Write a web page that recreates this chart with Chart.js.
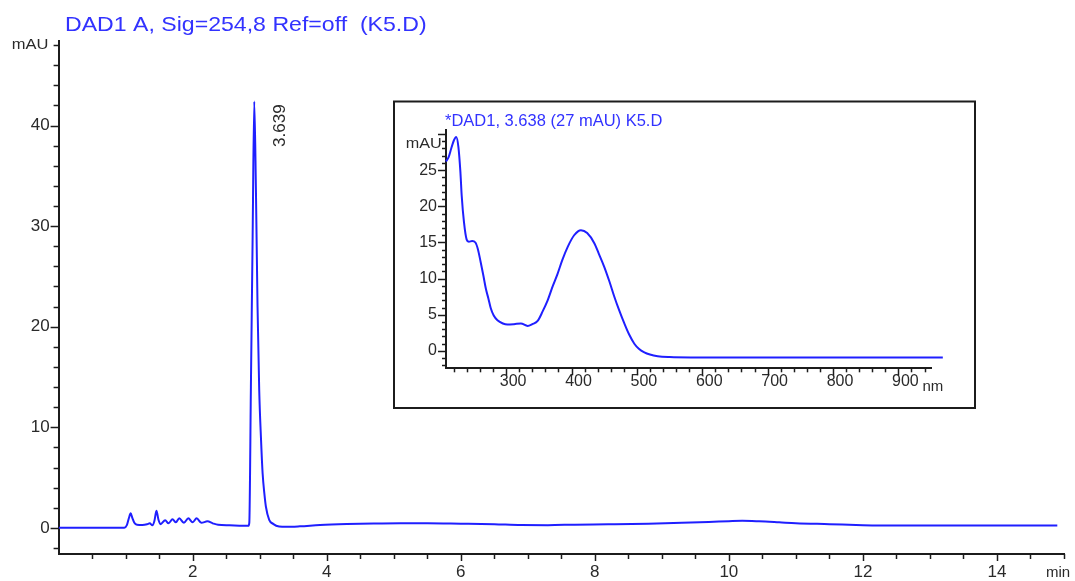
<!DOCTYPE html>
<html>
<head>
<meta charset="utf-8">
<script src="https://cdn.jsdelivr.net/npm/chart.js@4.4.1/dist/chart.umd.min.js"></script>
<style>
  html, body { margin: 0; padding: 0; background: #fff; }
  #wrap { position: relative; width: 1075px; height: 581px; overflow: hidden; }
  #main { position: absolute; left: 0; top: 0; }
  #inset { position: absolute; left: 393px; top: 100px; }
</style>
</head>
<body>
<div id="wrap">
  <canvas id="main" width="1075" height="581"></canvas>
  <canvas id="inset" width="583" height="309"></canvas>
</div>
<script>
// Chromatogram, DAD1 A (Sig=254,8): retention time in min, absorbance in mAU
const timeMin = [
  0, 0.5, 0.98, 1.02, 1.05, 1.075, 1.10, 1.13, 1.17, 1.25,
  1.32, 1.36, 1.40, 1.43, 1.46, 1.49, 1.52, 1.59, 1.64, 1.70,
  1.75, 1.80, 1.87, 1.935, 2.00, 2.06, 2.13, 2.22, 2.30, 2.38,
  2.55, 2.75, 2.83, 2.845, 2.869, 2.895, 2.919, 2.944, 2.968, 2.993,
  3.02, 3.044, 3.07, 3.093, 3.142, 3.20, 3.29, 3.40, 3.6, 3.9,
  4.3, 4.7, 5.1, 5.5, 6.0, 6.5, 6.9, 7.3, 7.7, 8.2,
  8.8, 9.3, 9.7, 10.0, 10.2, 10.45, 10.75, 11.0, 11.5, 12.0,
  12.5, 13.0, 13.5, 14.0, 14.5, 14.9
];
const signalMAU = [
  0, 0, 0.02, 0.3, 1.0, 1.45, 1.0, 0.5, 0.3, 0.28,
  0.35, 0.45, 0.25, 0.7, 1.7, 0.8, 0.37, 0.75, 0.45, 0.85,
  0.55, 0.95, 0.5, 0.95, 0.55, 0.95, 0.5, 0.65, 0.45, 0.3,
  0.25, 0.2, 0.2, 0.5, 14, 29, 42.4, 33.6, 22, 13.7,
  8.8, 5.4, 3.4, 2.1, 0.8, 0.4, 0.13, 0.1, 0.15, 0.28,
  0.38, 0.44, 0.47, 0.47, 0.42, 0.36, 0.28, 0.27, 0.32, 0.36,
  0.42, 0.5, 0.58, 0.66, 0.7, 0.65, 0.55, 0.46, 0.37, 0.27,
  0.23, 0.23, 0.23, 0.23, 0.23, 0.23
];

// UV-Vis spectrum taken at the main peak: wavelength in nm, absorbance in mAU
const wavelengthNm = [
  208, 212, 216, 220, 223.6, 227, 230, 232, 235.5, 239.6,
  243, 248, 253, 257, 261, 265, 269, 273, 276.5, 281,
  286.7, 295, 302, 312, 322.6, 332.9, 340, 348.2, 356, 363.5,
  371, 378.8, 386, 394.2, 404, 414.5, 424, 434.9, 442, 450.2,
  458, 465.5, 473, 480.8, 488, 496.1, 503, 511.4, 520, 531.8,
  550, 582.7, 650, 750, 850, 968
];
const spectrumMAU = [
  26.2, 26.8, 28.0, 29.1, 29.6, 28.2, 24.8, 21.5, 17.8, 15.4,
  15.1, 15.2, 15.0, 14.0, 12.3, 10.5, 8.6, 7.2, 5.9, 4.9,
  4.25, 3.8, 3.65, 3.7, 3.8, 3.46, 3.7, 4.15, 5.5, 7.0,
  8.9, 10.7, 12.6, 14.4, 16.0, 16.7, 16.3, 14.9, 13.4, 11.6,
  9.6, 7.5, 5.6, 3.8, 2.3, 1.0, 0.3, -0.2, -0.5, -0.73,
  -0.85, -0.9, -0.9, -0.9, -0.9, -0.9
];

// Labelled ticks
const timeTickLabels = [2, 4, 6, 8, 10, 12, 14];
const mauTickLabels = [0, 10, 20, 30, 40];
const nmTickLabels = [300, 400, 500, 600, 700, 800, 900];
const spectrumTickLabels = [0, 5, 10, 15, 20, 25];

const chromTitle = 'DAD1 A, Sig=254,8 Ref=off  (K5.D)';
const spectrumTitle = '*DAD1, 3.638 (27 mAU) K5.D';
const peakLabel = '3.639';

const FONT = '"Liberation Sans", Arial, sans-serif';
const TRACE = '#1f1fff';
const TITLE_BLUE = '#3232ff';
const AXIS = '#1c1c1c';
const TEXT = '#2a2a2a';

function drawText(ctx, text, x, y, o) {
  ctx.save();
  ctx.font = o.font;
  ctx.fillStyle = o.color;
  ctx.textAlign = o.align || 'left';
  ctx.textBaseline = o.baseline || 'middle';
  ctx.translate(x, y);
  if (o.rotate) ctx.rotate(o.rotate);
  if (o.sx) ctx.scale(o.sx, 1);
  ctx.fillText(text, 0, 0);
  ctx.restore();
}

// Outward tick marks: long at labelled positions, short elsewhere
function tickMarkPlugin(spec) {
  return {
    id: 'tickMarks',
    afterDraw(chart) {
      const ctx = chart.ctx;
      ctx.save();
      ctx.strokeStyle = AXIS;
      ctx.lineWidth = 1.5;
      const xs = chart.scales.x, ys = chart.scales.y;
      xs.ticks.forEach(t => {
        if (t.value === xs.min) return;
        const len = spec.xMajor(t.value) ? spec.xLong : spec.xShort;
        const p = Math.round(xs.getPixelForValue(t.value)) + 0.5;
        ctx.beginPath();
        ctx.moveTo(p, xs.top);
        ctx.lineTo(p, xs.top + len);
        ctx.stroke();
      });
      ys.ticks.forEach(t => {
        const len = spec.yMajor(t.value) ? spec.yLong : spec.yShort;
        const p = Math.round(ys.getPixelForValue(t.value)) + 0.5;
        ctx.beginPath();
        ctx.moveTo(ys.right, p);
        ctx.lineTo(ys.right - len, p);
        ctx.stroke();
      });
      ctx.restore();
    }
  };
}

const chromDecor = {
  id: 'chromDecor',
  afterDraw(chart) {
    const ctx = chart.ctx;
    const xs = chart.scales.x, ys = chart.scales.y;
    drawText(ctx, chromTitle, 65, 25, { font: '21px ' + FONT, color: TITLE_BLUE, sx: 1.1 });
    drawText(ctx, 'mAU', 48.5, ys.getPixelForValue(48), { font: '15px ' + FONT, color: TEXT, align: 'right', sx: 1.1 });
    drawText(ctx, 'min', 1046, 573, { font: '15px ' + FONT, color: TEXT });
    // retention-time label beside the apex of the main peak
    let k = 0;
    signalMAU.forEach((v, i) => { if (v > signalMAU[k]) k = i; });
    const px = xs.getPixelForValue(timeMin[k]);
    const py = ys.getPixelForValue(signalMAU[k]);
    drawText(ctx, peakLabel, px + 30.5, py + 45.5, {
      font: '17px ' + FONT, color: TEXT, rotate: -Math.PI / 2, baseline: 'alphabetic'
    });
  }
};

const insetDecor = {
  id: 'insetDecor',
  beforeDraw(chart) {
    const ctx = chart.ctx;
    ctx.save();
    ctx.fillStyle = '#fff';
    ctx.fillRect(0, 0, chart.width, chart.height);
    ctx.restore();
  },
  afterDraw(chart) {
    const ctx = chart.ctx;
    ctx.save();
    ctx.strokeStyle = AXIS;
    ctx.lineWidth = 2;
    ctx.strokeRect(1, 1.5, chart.width - 2, chart.height - 2.5);
    ctx.restore();
    drawText(ctx, spectrumTitle, 52, 21, { font: '16.5px ' + FONT, color: TITLE_BLUE });
    drawText(ctx, 'mAU', 48.7, 43.5, { font: '15px ' + FONT, color: TEXT, align: 'right', sx: 1.08 });
    drawText(ctx, 'nm', 529.5, 287, { font: '15px ' + FONT, color: TEXT });
  }
};

const tickFont = size => ({ family: FONT, size });

new Chart(document.getElementById('main'), {
  type: 'line',
  data: {
    datasets: [{
      data: timeMin.map((t, i) => ({ x: t, y: signalMAU[i] })),
      borderColor: TRACE,
      borderWidth: 2,
      pointRadius: 0,
      cubicInterpolationMode: 'monotone',
      fill: false
    }]
  },
  options: {
    responsive: false,
    animation: false,
    devicePixelRatio: 1,
    events: [],
    layout: { padding: { left: 0, right: 11, top: 41.1, bottom: 0 } },
    plugins: { legend: { display: false }, tooltip: { enabled: false } },
    scales: {
      x: {
        type: 'linear', min: 0, max: 15,
        grid: { display: false, drawTicks: false },
        border: { display: true, color: AXIS, width: 2 },
        ticks: {
          stepSize: 0.5, autoSkip: false, maxRotation: 0, minRotation: 0, includeBounds: false,
          padding: 8, color: TEXT, font: tickFont(17),
          callback: v => timeTickLabels.includes(v) ? String(v) : ''
        },
        afterFit: s => { s.height = 27; }
      },
      y: {
        type: 'linear', min: -2.6, max: 48.4,
        grid: { display: false, drawTicks: false },
        border: { display: true, color: AXIS, width: 2 },
        ticks: {
          stepSize: 2, autoSkip: false, includeBounds: false,
          padding: 9, color: TEXT, font: tickFont(17),
          callback: v => mauTickLabels.includes(v) ? String(v) : ''
        },
        afterFit: s => { s.width = 58.6; }
      }
    }
  },
  plugins: [
    tickMarkPlugin({
      xMajor: v => v % 2 === 0, xLong: 7, xShort: 5,
      yMajor: v => v % 10 === 0, yLong: 8, yShort: 5
    }),
    chromDecor
  ]
});

new Chart(document.getElementById('inset'), {
  type: 'line',
  data: {
    datasets: [{
      data: wavelengthNm.map((w, i) => ({ x: w, y: spectrumMAU[i] })),
      borderColor: TRACE,
      borderWidth: 2,
      pointRadius: 0,
      cubicInterpolationMode: 'monotone',
      fill: false,
      clip: false
    }]
  },
  options: {
    responsive: false,
    animation: false,
    devicePixelRatio: 1,
    events: [],
    layout: { padding: { left: 0, right: 44.3, top: 30.4, bottom: 0 } },
    plugins: { legend: { display: false }, tooltip: { enabled: false } },
    scales: {
      x: {
        type: 'linear', min: 208, max: 951,
        grid: { display: false, drawTicks: false },
        border: { display: true, color: AXIS, width: 2 },
        ticks: {
          stepSize: 20, autoSkip: false, maxRotation: 0, minRotation: 0, includeBounds: false,
          padding: 4, labelOffset: 7, color: TEXT, font: tickFont(16),
          callback: v => nmTickLabels.includes(v) ? String(v) : ''
        },
        afterFit: s => { s.height = 40.7; }
      },
      y: {
        type: 'linear', min: -2.4, max: 30.5,
        grid: { display: false, drawTicks: false },
        border: { display: true, color: AXIS, width: 2 },
        ticks: {
          stepSize: 1, autoSkip: false, includeBounds: false,
          padding: 9, color: TEXT, font: tickFont(16),
          callback: v => spectrumTickLabels.includes(v) ? String(v) : ''
        },
        afterFit: s => { s.width = 53; }
      }
    }
  },
  plugins: [
    tickMarkPlugin({
      xMajor: v => v % 100 === 0, xLong: 7, xShort: 4,
      yMajor: v => v % 5 === 0, yLong: 8, yShort: 4
    }),
    insetDecor
  ]
});
</script>
</body>
</html>
